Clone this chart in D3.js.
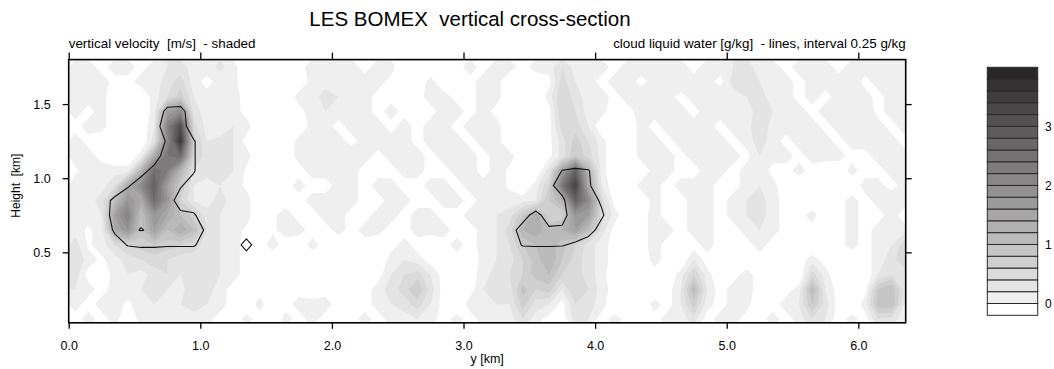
<!DOCTYPE html>
<html>
<head>
<meta charset="utf-8">
<script src="https://cdn.jsdelivr.net/npm/d3@7"></script>
<style>
  body { margin: 0; background: #fff; }
  svg { display: block; }
  text { font-family: "Liberation Sans", Arial, Helvetica, sans-serif; fill: #000; white-space: pre; }
</style>
</head>
<body>
<svg id="chart" width="1054" height="369"></svg>
<script>
// ---- axis ticks and levels ----
const yTicksKm = [0, 1, 2, 3, 4, 5, 6];          // horizontal distance y [km]
const heightTicksKm = [0.5, 1.0, 1.5];           // height [km]
const wLevels = [0, 0.2, 0.4, 0.6, 0.8, 1.0, 1.2, 1.4, 1.6, 1.8,
                 2.0, 2.2, 2.4, 2.6, 2.8, 3.0, 3.2, 3.4, 3.6, 3.8]; // shading levels [m/s]
const barLabels = [0, 1, 2, 3];
const qlLevels = [0.25, 0.5];                    // cloud water contours [g/kg]

// ---- vertical velocity [m/s], 0.1 km grid; rows run from z = 1.75 km down to z = 0.05 km ----
const wRows = [
  [0.1,0.1,-0.08,0.1,0.1,-0.08,0.1,0.2, 0.3,0.1,0.1,0.25,0.1,-0.2,-0.2,-0.2, -0.2,-0.08,0.1,0.2,0.1,0.1,-0.08,0.1, 0.1,-0.2,-0.2,-0.2,-0.2,-0.08,0.1,-0.08,
   0.1,0.1,-0.08,0.1,0.1,0.4,0.1,0.1, 0.1,-0.08,0.1,0.1,0.2,0.1,0.1,-0.08, 0.1,0.1,0.2,0.3,0.1,0.1,-0.08,0.1, 0.2,0.1,-0.08,0.1,0.1,0.1,0.2,0.1],
  [0.1,0.2,0.1,-0.08,-0.08,0.1,0.1,0.3, 0.5,0.1,-0.08,0.1,0.1,-0.2,-0.2,-0.2, -0.2,-0.2,0.1,0.1,0.1,0.2,0.1,0.1, -0.08,-0.2,-0.2,0.1,-0.2,-0.2,-0.08,0.1,
   0.1,-0.2,-0.2,-0.2,-0.08,0.5,0.2,0.1, -0.08,0.1,0.1,-0.08,0.1,0.1,0.2,0.1, 0.1,-0.08,0.3,0.4,0.2,0.1,0.1,-0.08, 0.1,0.1,0.1,0.2,-0.08,0.1,0.1,0.2],
  [0.1,0.1,0.1,-0.2,-0.2,-0.2,0.1,0.4, 0.7,0.2,0.1,0.1,0.2,-0.2,-0.2,-0.2, -0.2,0.1,0.1,0.3,0.2,0.1,0.1,-0.08, -0.08,-0.2,-0.08,0.1,0.1,-0.08,-0.08,0.1,
   0.1,-0.2,-0.2,-0.2,0.1,0.6,0.3,0.1, 0.1,-0.08,0.1,0.2,0.1,0.1,-0.08,0.1, 0.1,0.2,0.1,0.2,0.3,0.1,0.1,-0.08, 0.1,-0.08,0.1,0.1,0.1,-0.08,0.1,0.1],
  [0.1,-0.08,0.1,-0.2,-0.2,-0.2,0.1,1.6, 2.0,0.3,0.1,0.1,0.1,-0.08,-0.2,-0.2, -0.2,-0.08,0.1,0.2,0.1,0.1,0.1,-0.08, 0.1,-0.08,-0.2,-0.08,0.1,0.1,-0.08,0.1,
   -0.08,-0.2,-0.2,-0.2,-0.08,0.6,0.4,0.1, 0.1,-0.2,-0.08,0.1,0.1,0.2,0.1,-0.08, 0.1,0.1,0.1,0.1,0.3,0.2,0.1,0.1, -0.08,0.1,0.1,0.1,0.2,-0.08,0.1,0.1],
  [-0.08,0.1,0.1,-0.2,-0.2,-0.2,0.2,2.2, 3.2,0.5,0.1,0.1,0.2,0.1,-0.2,-0.2, -0.2,-0.2,0.1,0.1,-0.08,0.1,0.1,0.1, -0.08,0.1,-0.08,0.1,0.1,-0.08,0.1,0.1,
   0.1,-0.2,-0.2,-0.2,-0.08,0.5,0.5,0.2, -0.2,-0.2,-0.2,0.1,-0.08,0.1,0.2,0.1, 0.1,-0.08,0.1,0.1,0.4,0.1,0.1,0.2, 0.1,-0.08,0.1,0.1,0.1,0.1,-0.08,0.1],
  [0.1,-0.08,-0.2,-0.2,-0.2,-0.2,0.3,2.0, 3.6,0.7,0.2,0.25,0.2,-0.08,-0.2,-0.2, -0.2,0.1,0.1,0.2,0.1,-0.08,0.1,0.1, 0.1,0.1,-0.08,0.1,0.1,0.1,-0.08,0.1,
   0.1,-0.2,-0.2,-0.2,-0.08,0.3,0.7,0.4, 0.1,-0.2,-0.2,0.1,0.1,-0.08,0.1,0.1, 0.2,0.1,-0.08,0.1,0.3,0.1,-0.08,0.1, 0.1,0.1,-0.08,0.1,0.1,0.1,0.1,-0.08],
  [0.1,0.1,-0.08,-0.2,-0.2,0.1,1.4,2.4, 2.6,0.6,0.3,0.25,0.2,0.1,-0.2,-0.2, -0.2,0.1,0.1,0.1,0.1,0.2,0.1,-0.08, 0.1,0.1,0.1,-0.08,0.1,0.1,0.1,-0.08,
   0.1,0.1,-0.2,-0.2,-0.08,0.3,0.8,0.5, 0.1,-0.2,-0.2,0.1,0.1,0.1,-0.08,0.1, 0.1,0.1,0.1,-0.08,0.2,0.1,0.1,-0.08, 0.1,0.1,0.1,-0.08,-0.08,0.1,0.2,0.1],
  [-0.04,0.1,0.1,0.1,0.1,1.2,2.6,2.2, 1.2,0.4,0.3,0.2,0.2,-0.04,-0.2,-0.2, -0.2,-0.1,0.1,0.1,0.2,0.1,-0.1,-0.1, -0.1,0.1,0.1,-0.1,-0.1,0.1,0.1,-0.1,
   0.1,-0.04,-0.2,-0.2,0.3,1.6,2.8,1.2, 0.1,-0.2,-0.2,-0.2,0.1,0.1,-0.1,-0.1, 0.1,0.1,-0.1,0.1,0.2,-0.1,-0.1,0.1, -0.1,-0.2,-0.2,0.1,-0.1,-0.1,0.1,0.1],
  [0.1,0.1,0.1,0.4,1.4,2.0,2.8,1.6, 0.8,0.2,0.1,0.2,0.1,-0.04,-0.2,-0.2, -0.1,0.1,-0.1,-0.1,0.1,0.1,-0.1,0.1, 0.1,-0.1,-0.1,0.1,0.1,-0.1,0.1,0.1,
   0.1,-0.04,-0.2,0.1,0.6,2.4,3.4,1.4, 0.2,-0.2,-0.2,0.1,0.1,-0.1,0.1,0.1, 0.1,-0.1,-0.1,0.1,0.2,0.1,-0.2,-0.2, -0.2,-0.1,-0.2,-0.2,0.1,0.1,-0.1,0.1],
  [0.1,0.1,0.3,1.0,1.8,1.4,2.6,1.8, 0.6,0.2,0.1,0.3,0.1,0.1,-0.2,-0.2, -0.1,-0.1,0.1,0.1,0.2,0.1,-0.1,-0.1, 0.1,0.1,-0.1,-0.1,0.1,0.1,-0.1,0.1,
   0.1,0.1,0.1,0.2,0.8,1.2,2.8,2.0, 0.5,-0.1,-0.2,-0.2,0.1,-0.1,-0.1,0.1, 0.1,-0.1,0.1,0.2,0.3,0.1,-0.1,-0.1, -0.2,-0.2,-0.1,0.1,-0.1,0.1,0.2,0.1],
  [0.1,0.1,0.2,1.6,2.2,1.0,1.8,1.4, 1.0,0.7,0.3,0.2,0.1,0.1,-0.2,-0.04, 0.1,-0.1,-0.1,0.1,0.1,-0.1,-0.1,0.1, 0.1,-0.1,0.1,0.1,-0.1,-0.1,0.1,0.1,
   0.2,0.3,0.8,1.4,0.6,0.6,1.8,1.6, 0.5,0.1,-0.2,-0.1,0.1,-0.1,-0.1,0.1, 0.1,-0.1,0.1,0.2,0.3,0.1,-0.1,-0.1, 0.1,-0.2,-0.1,0.1,-0.1,-0.1,0.1,-0.1],
  [0.1,-0.04,0.1,1.4,1.8,0.9,1.6,1.0, 1.4,1.0,0.4,0.2,0.1,-0.04,-0.2,-0.04, 0.1,0.1,-0.1,-0.1,0.1,-0.1,0.1,0.1, -0.1,-0.1,0.1,0.1,0.1,-0.1,-0.1,0.1,
   0.2,0.5,1.2,1.4,1.0,1.2,1.6,1.0, 0.3,-0.1,-0.2,-0.1,0.1,0.1,-0.1,0.1, 0.1,-0.1,-0.1,0.1,0.2,0.1,-0.1,-0.2, -0.1,-0.2,-0.1,0.1,-0.1,0.1,0.1,0.1],
  [0.3,-0.04,0.1,0.4,0.6,0.7,0.8,0.7, 0.6,0.5,0.3,0.2,0.1,-0.1,-0.1,0.1, -0.1,-0.2,0.1,-0.1,-0.2,-0.1,-0.1,-0.2, -0.1,0.1,-0.1,-0.2,-0.1,0.1,-0.1,0.1,
   0.2,0.4,0.8,1.0,1.1,0.9,0.6,0.3, 0.1,-0.1,-0.2,-0.1,0.1,-0.1,-0.2,-0.1, 0.1,-0.1,-0.2,-0.1,0.1,-0.1,-0.2,-0.1, -0.2,-0.2,-0.1,0.1,-0.1,0.1,0.2,0.5],
  [0.4,0.1,-0.04,0.1,0.3,0.4,0.5,0.4, 0.3,0.3,0.3,0.2,0.1,-0.1,-0.2,-0.2, -0.1,-0.2,-0.2,-0.1,-0.2,-0.2,-0.1,-0.2, 0.1,0.2,0.1,-0.1,-0.2,-0.1,-0.2,0.1,
   0.2,0.3,0.6,0.9,1.2,0.8,0.5,0.3, 0.1,-0.1,-0.2,-0.2,0.1,-0.1,-0.2,0.2, -0.1,-0.2,-0.1,-0.2,-0.1,-0.2,-0.2,-0.1, 0.1,-0.1,-0.2,-0.2,-0.1,0.1,0.3,0.6],
  [0.3,-0.1,-0.2,0.1,0.2,0.1,0.3,0.4, 0.2,0.3,0.4,0.2,0.1,-0.1,-0.2,-0.1, -0.2,-0.2,-0.1,-0.2,-0.2,-0.1,-0.2,-0.1, 0.2,0.4,0.5,0.2,-0.1,-0.2,-0.1,0.1,
   0.3,0.4,0.6,0.9,1.0,0.6,0.5,0.3, 0.1,-0.2,-0.1,-0.2,-0.1,-0.2,0.1,0.6, 0.1,-0.2,-0.1,0.1,-0.1,-0.2,-0.1,-0.2, 0.5,0.1,-0.2,-0.1,-0.2,0.2,0.4,0.2],
  [0.2,0.1,-0.1,0.1,0.1,0.2,0.3,0.2, 0.1,0.4,0.3,0.1,-0.1,-0.2,-0.1,-0.2, -0.2,-0.1,-0.2,-0.1,-0.2,-0.2,-0.1,0.1, 0.3,0.5,0.8,0.3,-0.1,-0.2,-0.1,0.2,
   0.3,0.3,0.9,0.6,0.7,0.2,0.6,0.4, 0.1,-0.1,-0.2,-0.1,-0.2,-0.1,0.2,1.1, 0.2,-0.1,0.1,0.1,-0.1,-0.2,-0.1,0.1, 1.1,0.2,-0.1,-0.2,-0.1,0.8,1.0,0.3],
  [0.1,-0.1,0.1,0.1,-0.04,0.1,0.2,0.1, 0.2,0.3,0.2,0.1,-0.1,-0.2,0.1,-0.2, -0.1,0.1,0.1,0.1,-0.1,-0.2,-0.1,0.1, 0.2,0.3,0.5,0.2,-0.1,-0.2,0.1,0.1,
   0.2,0.2,0.7,0.3,0.2,-0.08,0.4,0.3, 0.1,-0.2,-0.1,-0.2,0.1,-0.1,0.2,0.7, 0.1,-0.1,0.1,0.1,-0.2,-0.1,0.1,0.2, 0.8,0.3,-0.1,-0.2,0.1,0.9,1.0,0.2],
  [-0.1,0.1,-0.1,0.1,-0.2,0.1,0.1,0.1, 0.1,0.1,0.1,-0.1,-0.2,0.1,-0.1,-0.2, 0.1,-0.1,0.1,-0.1,-0.2,-0.1,0.1,-0.1, 0.1,0.1,0.2,0.1,-0.1,0.1,-0.1,0.1,
   0.1,0.1,0.4,0.1,-0.08,-0.1,0.3,0.2, -0.1,0.1,-0.1,-0.2,-0.1,0.1,0.1,0.3, -0.1,0.1,0.1,-0.1,-0.1,0.1,-0.1,0.1, 0.4,0.2,-0.1,0.1,-0.1,0.4,0.3,0.1]
];

// ---- cloud liquid water [g/kg] at grid points inside the clouds: [y km, height km, ql] ----
const qlPoints = [
  // cloud near y = 0.7 km
  [0.75,1.45,0.35],[0.85,1.45,0.38],
  [0.65,1.35,0.10],[0.75,1.35,0.45],[0.85,1.35,0.45],
  [0.75,1.25,0.30],[0.85,1.25,0.45],[0.95,1.25,0.28],
  [0.65,1.15,0.10],[0.75,1.15,0.42],[0.85,1.15,0.45],[0.95,1.15,0.28],
  [0.55,1.05,0.15],[0.65,1.05,0.35],[0.75,1.05,0.45],[0.85,1.05,0.42],[0.95,1.05,0.28],
  [0.35,0.95,0.10],[0.45,0.95,0.22],[0.55,0.95,0.40],[0.65,0.95,0.45],[0.75,0.95,0.42],[0.85,0.95,0.28],[0.95,0.95,0.10],
  [0.25,0.85,0.15],[0.35,0.85,0.30],[0.45,0.85,0.45],[0.55,0.85,0.45],[0.65,0.85,0.45],[0.75,0.85,0.40],[0.85,0.85,0.10],
  [0.25,0.75,0.10],[0.35,0.75,0.35],[0.45,0.75,0.45],[0.55,0.75,0.45],[0.65,0.75,0.45],[0.75,0.75,0.42],[0.85,0.75,0.32],[0.95,0.75,0.30],
  [0.35,0.65,0.30],[0.45,0.65,0.45],[0.55,0.65,0.51],[0.65,0.65,0.46],[0.75,0.65,0.45],[0.85,0.65,0.42],[0.95,0.65,0.40],[1.05,0.65,0.20],
  [0.35,0.55,0.10],[0.45,0.55,0.27],[0.55,0.55,0.30],[0.65,0.55,0.30],[0.75,0.55,0.28],[0.85,0.55,0.28],[0.95,0.55,0.28],[1.05,0.55,0.10],
  // small cloud fragment
  [1.35,0.55,0.42],
  // cloud near y = 3.8 km
  [3.75,1.05,0.26],[3.85,1.05,0.30],[3.95,1.05,0.27],
  [3.65,0.95,0.20],[3.75,0.95,0.35],[3.85,0.95,0.45],[3.95,0.95,0.30],
  [3.65,0.85,0.05],[3.75,0.85,0.20],[3.85,0.85,0.45],[3.95,0.85,0.42],[4.05,0.85,0.20],
  [3.45,0.75,0.15],[3.55,0.75,0.35],[3.65,0.75,0.10],[3.75,0.75,0.15],[3.85,0.75,0.42],[3.95,0.75,0.45],[4.05,0.75,0.30],
  [3.35,0.65,0.15],[3.45,0.65,0.35],[3.55,0.65,0.42],[3.65,0.65,0.30],[3.75,0.65,0.30],[3.85,0.65,0.45],[3.95,0.65,0.40],[4.05,0.65,0.10],
  [3.35,0.55,0.10],[3.45,0.55,0.27],[3.55,0.55,0.28],[3.65,0.55,0.28],[3.75,0.55,0.27],[3.85,0.55,0.20],[3.95,0.55,0.05]
];

// ---- grid geometry ----
const nx = wRows[0].length, nz = wRows.length;
const dxKm = 0.1, dzKm = 0.1, zTopKm = 1.8;

const svg = d3.select("#chart");
const x = d3.scaleLinear().domain([0, 6.36]).range([68.7, 905.7]);
const y = d3.scaleLinear().domain([0.025, 1.8]).range([322.8, 59.6]);

const grey = d3.scaleLinear().domain([0, wLevels.length - 1]).range(["#efefef", "#2b2729"]);

// grid cell coordinates -> screen
const gridProj = d3.geoTransform({
  point(gx, gy) { this.stream.point(x(gx * dxKm), y(zTopKm - gy * dzKm)); }
});
const path = d3.geoPath(gridProj);

svg.append("defs").append("clipPath").attr("id", "plotClip")
  .append("rect")
  .attr("x", x(0)).attr("y", y(1.8))
  .attr("width", x(6.36) - x(0)).attr("height", y(0.025) - y(1.8));

const plot = svg.append("g").attr("clip-path", "url(#plotClip)");
plot.append("rect")
  .attr("x", x(0)).attr("y", y(1.8))
  .attr("width", x(6.36) - x(0)).attr("height", y(0.025) - y(1.8))
  .attr("fill", "#fff");

// shaded vertical velocity
const wValues = wRows.flat();
const wBands = d3.contours().size([nx, nz]).thresholds(wLevels)(wValues);
plot.append("g").selectAll("path")
  .data(wBands)
  .join("path")
  .attr("d", path)
  .attr("fill", (d, i) => grey(i))
  .attr("stroke", "none");

// cloud liquid water contour lines
const qlValues = new Array(nx * nz).fill(0);
qlPoints.forEach(([xk, zk, q]) => {
  const i = Math.round((xk - dxKm / 2) / dxKm);
  const j = Math.round((zTopKm - dzKm / 2 - zk) / dzKm);
  qlValues[j * nx + i] = q;
});
const qlLines = d3.contours().size([nx, nz]).thresholds(qlLevels)(qlValues);
plot.append("g").selectAll("path")
  .data(qlLines)
  .join("path")
  .attr("d", path)
  .attr("fill", "none")
  .attr("stroke", "#111")
  .attr("stroke-width", 1.1)
  .attr("stroke-linejoin", "round");

// frame
svg.append("rect")
  .attr("x", x(0)).attr("y", y(1.8))
  .attr("width", x(6.36) - x(0)).attr("height", y(0.025) - y(1.8))
  .attr("fill", "none").attr("stroke", "#000").attr("stroke-width", 1.6);

// axes
const fmt = d3.format(".1f");
const styleAxis = g => {
  g.select(".domain").remove();
  g.selectAll(".tick line").attr("stroke", "#000").attr("stroke-width", 1.3);
  g.selectAll("text").attr("fill", "#000").style("font-size", "12.5px")
    .style("font-family", '"Liberation Sans", Arial, sans-serif');
};
svg.append("g").attr("transform", `translate(0,${y(0.025)})`)
  .call(d3.axisBottom(x).tickValues(yTicksKm).tickFormat(fmt).tickSize(6).tickPadding(12))
  .call(styleAxis);
svg.append("g").attr("transform", `translate(0,${y(1.8)})`)
  .call(d3.axisTop(x).tickValues(yTicksKm).tickFormat("").tickSize(7))
  .call(styleAxis);
svg.append("g").attr("transform", `translate(${x(0)},0)`)
  .call(d3.axisLeft(y).tickValues(heightTicksKm).tickFormat(fmt).tickSize(6).tickPadding(12))
  .call(styleAxis);
svg.append("g").attr("transform", `translate(${x(6.36)},0)`)
  .call(d3.axisRight(y).tickValues(heightTicksKm).tickFormat("").tickSize(6))
  .call(styleAxis);

// titles
svg.append("text").attr("x", 470).attr("y", 26).attr("text-anchor", "middle")
  .style("font-size", "20.5px").text("LES BOMEX  vertical cross-section");
svg.append("text").attr("x", x(0)).attr("y", 48).attr("text-anchor", "start")
  .style("font-size", "13.4px").text("vertical velocity  [m/s]  - shaded");
svg.append("text").attr("x", x(6.36)).attr("y", 48).attr("text-anchor", "end")
  .style("font-size", "13.4px").text("cloud liquid water [g/kg]  - lines, interval 0.25 g/kg");
svg.append("text").attr("x", (x(0) + x(6.36)) / 2).attr("y", 363).attr("text-anchor", "middle")
  .style("font-size", "12.5px").text("y [km]");
svg.append("text").attr("transform", `translate(20,${y(0.95)}) rotate(-90)`).attr("text-anchor", "middle")
  .style("font-size", "12px").text("Height  [km]");

// colour bar
const bar = d3.scaleLinear().domain([-0.2, 4.0]).range([315.3, 67.3]);
const barBoxes = [-0.2].concat(wLevels);
const barG = svg.append("g");
barG.selectAll("rect")
  .data(barBoxes)
  .join("rect")
  .attr("x", 987.3)
  .attr("width", 50.4)
  .attr("y", d => bar(d + 0.2))
  .attr("height", d => bar(d) - bar(d + 0.2))
  .attr("fill", (d, i) => i === 0 ? "#fff" : grey(i - 1))
  .attr("stroke", "#2a2a2a")
  .attr("stroke-width", 1);
barG.selectAll("text")
  .data(barLabels)
  .join("text")
  .attr("x", 1045)
  .attr("y", d => bar(d))
  .attr("dy", "0.35em")
  .style("font-size", "12px")
  .text(d => d);
</script>
</body>
</html>
